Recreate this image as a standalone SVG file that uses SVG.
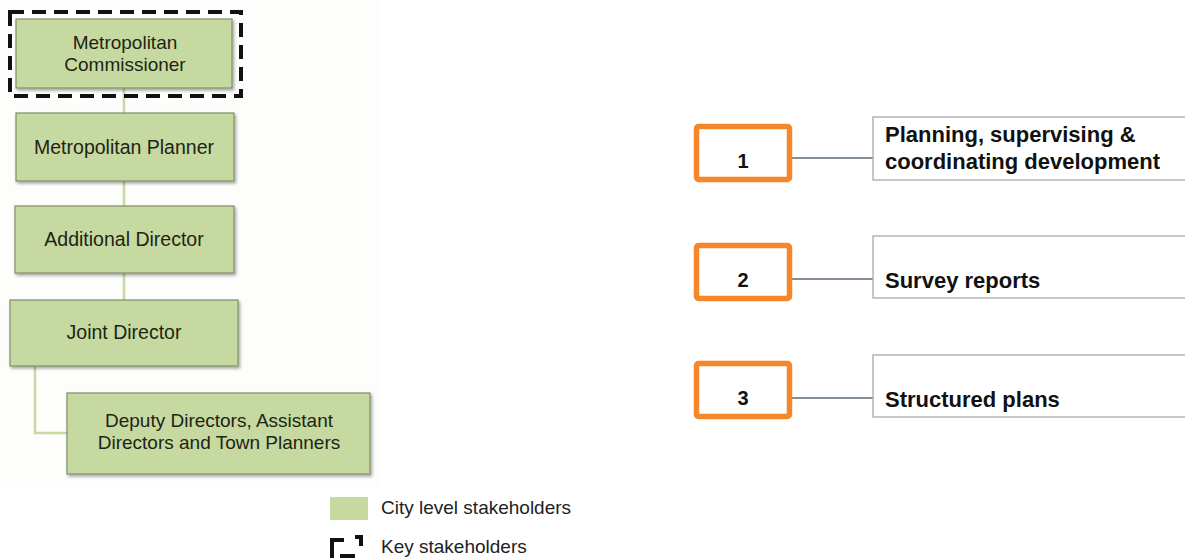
<svg xmlns="http://www.w3.org/2000/svg" width="1185" height="558" viewBox="0 0 1185 558">
  <defs>
    <filter id="shadow" x="-5%" y="-10%" width="115%" height="130%">
      <feDropShadow dx="1.5" dy="2" stdDeviation="1.5" flood-color="#000" flood-opacity="0.35"/>
    </filter>
  </defs>
  <style>
    .org rect { fill: #c6d9a0; stroke: #7f8f6a; stroke-width: 1.2; filter: url(#shadow); }
    .org text { font-family: "Liberation Sans", Arial, sans-serif; font-size: 19.5px; fill: #1e2414; text-anchor: middle; }
    .org text.two { font-size: 19px; }
    .tree { stroke: #c6d9a0; stroke-width: 2.5; fill: none; }
    .key { fill: none; stroke: #111; stroke-width: 4; stroke-dasharray: 14 8; }
    .num rect { fill: #fff; stroke: #f5872a; stroke-width: 5.5; }
    .num text { font-family: "Liberation Sans", Arial, sans-serif; font-size: 20px; font-weight: bold; fill: #111; text-anchor: middle; }
    .task rect { fill: #fff; stroke: #a8a8a8; stroke-width: 1.3; }
    .task text { font-family: "Liberation Sans", Arial, sans-serif; font-size: 22px; font-weight: bold; fill: #111; }
    .link { stroke: #5d6b7c; stroke-width: 1.5; fill: none; }
    .legend text { font-family: "Liberation Sans", Arial, sans-serif; font-size: 19px; fill: #222; }
  </style>

  <rect width="1185" height="558" fill="#fff"/>
  <rect x="0" y="0" width="380" height="487" fill="#fdfdfb"/>

  <!-- tree and link connectors -->
  <g id="connectors">
    <path class="tree" d="M124 88 V113 M124 181 V206 M124 273 V300 M35 366 V433 H67"/>
    <path class="link" d="M792 158 H873 M792 279 H873 M792 398 H873"/>
  </g>

  <!-- organisation chart -->
  <g id="commissioner" class="org">
    <rect x="16" y="19" width="216" height="69"/>
    <text class="two" x="125" y="49">Metropolitan</text>
    <text class="two" x="125" y="71">Commissioner</text>
  </g>
  <rect id="key-frame" class="key" x="10" y="12" width="231" height="84"/>
  <g id="planner" class="org">
    <rect x="16" y="113" width="218" height="68"/>
    <text x="124" y="154">Metropolitan Planner</text>
  </g>
  <g id="additional-director" class="org">
    <rect x="15" y="206" width="219" height="67"/>
    <text x="124" y="246">Additional Director</text>
  </g>
  <g id="joint-director" class="org">
    <rect x="10" y="300" width="228" height="66"/>
    <text x="124" y="339">Joint Director</text>
  </g>
  <g id="deputy-directors" class="org">
    <rect x="67" y="393" width="303" height="81"/>
    <text class="two" x="219" y="427">Deputy Directors, Assistant</text>
    <text class="two" x="219" y="449">Directors and Town Planners</text>
  </g>

  <!-- legend -->
  <g id="legend" class="legend">
    <rect x="330" y="497" width="38" height="23" fill="#c6d9a0"/>
    <text x="381" y="514">City level stakeholders</text>
    <path d="M332 558 V540 H344 M340 556 H355 M355 537 H361 V546" fill="none" stroke="#111" stroke-width="4"/>
    <text x="381" y="553">Key stakeholders</text>
  </g>

  <!-- functions -->
  <g id="item-1">
    <g class="num">
      <rect x="696.5" y="126.5" width="93" height="53" rx="2"/>
      <text x="743" y="168">1</text>
    </g>
    <g class="task">
      <rect x="873" y="117" width="320" height="63"/>
      <text x="885" y="142">Planning, supervising &amp;</text>
      <text x="885" y="169">coordinating development</text>
    </g>
  </g>
  <g id="item-2">
    <g class="num">
      <rect x="696.5" y="245.5" width="93" height="53" rx="2"/>
      <text x="743" y="287">2</text>
    </g>
    <g class="task">
      <rect x="873" y="236" width="320" height="62"/>
      <text x="885" y="288">Survey reports</text>
    </g>
  </g>
  <g id="item-3">
    <g class="num">
      <rect x="696.5" y="363.5" width="93" height="53" rx="2"/>
      <text x="743" y="405">3</text>
    </g>
    <g class="task">
      <rect x="873" y="355" width="320" height="62"/>
      <text x="885" y="407">Structured plans</text>
    </g>
  </g>
</svg>
